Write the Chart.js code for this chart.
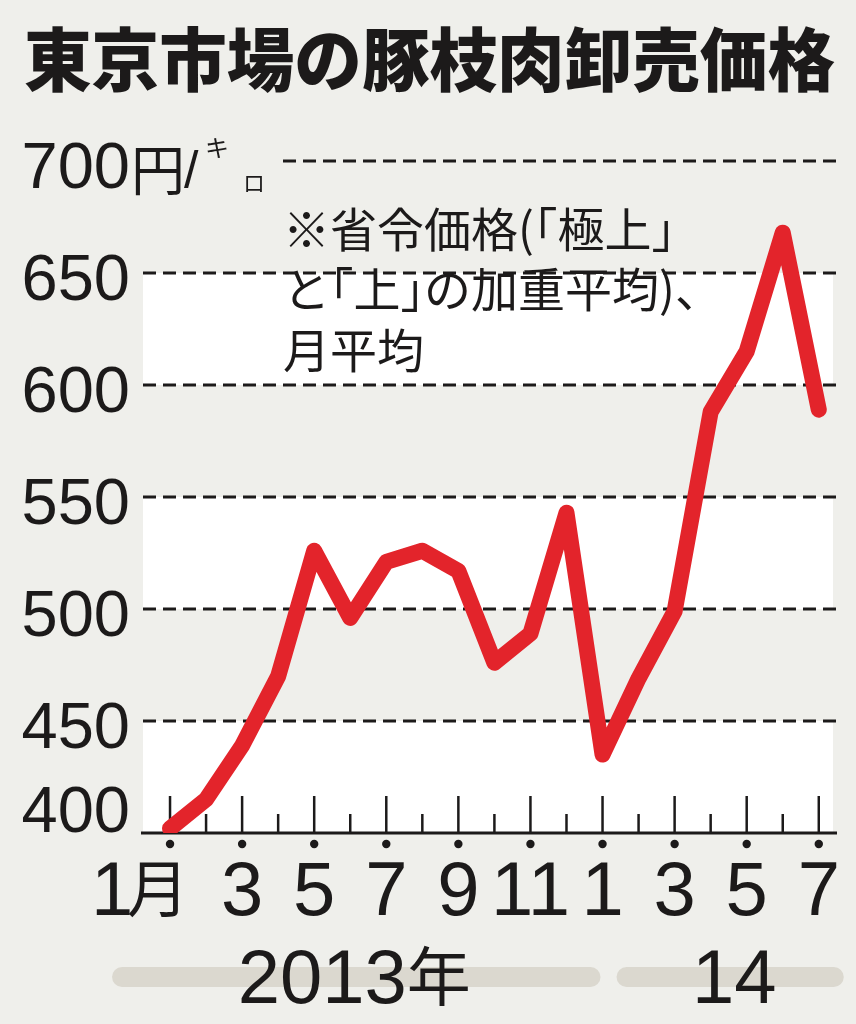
<!DOCTYPE html>
<html lang="ja">
<head>
<meta charset="utf-8">
<title>東京市場の豚枝肉卸売価格</title>
<script src="https://cdn.jsdelivr.net/npm/chart.js"></script>
<style>
  html, body { margin: 0; padding: 0; background: #efefeb; }
  #wrap { width: 856px; height: 1024px; }
</style>
</head>
<body>
<div id="wrap"><canvas id="priceChart" width="856" height="1024"></canvas></div>
<script>
  // データ（2013年1月〜2014年7月、円/キロ）
  const title = '東京市場の豚枝肉卸売価格';
  const noteLines = ['※省令価格(「極上」', 'と「上」の加重平均)、', '月平均'];
  const months = [1, 2, 3, 4, 5, 6, 7, 8, 9, 10, 11, 12, 1, 2, 3, 4, 5, 6, 7];
  const prices = [402, 415, 439, 470, 526, 496, 521, 526, 517, 476, 489, 543, 435, 469, 499, 588, 615, 668, 589];
  const yTicks = [400, 450, 500, 550, 600, 650, 700];
  const yearLabels = ['2013年', '14'];
  const yearFirst = [0, 12];
  const yearLast = [11, 18];

  const INK = '#1c1a1a';
  const BG = '#efefeb';
  const LATIN = '"Liberation Sans", Arial, sans-serif';
  const CJK = '"Noto Sans CJK JP", sans-serif';

  // 半角扱いの約物
  function drawNote(ctx, text, x, y, size) {
    ctx.font = size + 'px ' + CJK;
    ctx.textAlign = 'left';
    ctx.textBaseline = 'middle';
    let cx = x;
    for (const ch of text) {
      if (ch === '「') {
        ctx.fillText(ch, cx - size * 0.5, y);
        cx += size * 0.5;
      } else if (ch === '」' || ch === '、') {
        ctx.fillText(ch, cx, y);
        cx += size * 0.5;
      } else {
        ctx.fillText(ch, cx, y);
        cx += ctx.measureText(ch).width;
      }
    }
  }

  const decor = {
    id: 'decor',
    beforeDraw(chart) {
      const { ctx, chartArea: a, scales: { x, y } } = chart;
      ctx.save();
      ctx.fillStyle = BG;
      ctx.fillRect(0, 0, chart.width, chart.height);

      // 白い帯
      ctx.fillStyle = '#ffffff';
      for (let i = 0; i < yTicks.length - 2; i += 2) {
        const y0 = y.getPixelForValue(yTicks[i]);
        const y1 = y.getPixelForValue(yTicks[i + 1]);
        ctx.fillRect(a.left, y1, a.right - a.left - 2, y0 - y1);
      }

      // 破線の目盛り線
      ctx.strokeStyle = INK;
      ctx.lineWidth = 3;
      ctx.setLineDash([13, 7]);
      yTicks.forEach(v => {
        if (v === 400) return;
        const py = Math.round(y.getPixelForValue(v));
        const startX = v === 700 ? 283 : a.left;
        ctx.beginPath();
        ctx.moveTo(startX, py);
        ctx.lineTo(a.right + 2, py);
        ctx.stroke();
      });
      ctx.setLineDash([]);

      // 横軸と目盛り
      const axisY = y.getPixelForValue(400);
      ctx.lineWidth = 3;
      ctx.beginPath();
      ctx.moveTo(a.left - 2, axisY);
      ctx.lineTo(a.right + 2, axisY);
      ctx.stroke();
      ctx.lineWidth = 2.5;
      months.forEach((m, i) => {
        const px = x.getPixelForValue(i);
        const h = i % 2 === 0 ? 37 : 19;
        ctx.beginPath();
        ctx.moveTo(px, axisY);
        ctx.lineTo(px, axisY - h);
        ctx.stroke();
      });

      // 年の帯
      ctx.lineCap = 'round';
      const pills = [[x.getPixelForValue(yearFirst[0]) - 48, x.getPixelForValue(yearLast[0]) + 24],
                     [x.getPixelForValue(yearFirst[1]) + 24, x.getPixelForValue(yearLast[1]) + 15]];
      ctx.strokeStyle = '#dbd8cf';
      ctx.lineWidth = 20;
      pills.forEach(p => {
        ctx.beginPath();
        ctx.moveTo(p[0], 977);
        ctx.lineTo(p[1], 977);
        ctx.stroke();
      });
      ctx.restore();
    },
    afterDraw(chart) {
      const { ctx, scales: { x, y } } = chart;
      ctx.save();
      ctx.fillStyle = INK;

      // タイトル
      ctx.font = '900 69px ' + CJK;
      ctx.textAlign = 'left';
      ctx.textBaseline = 'middle';
      const tw = ctx.measureText(title).width;
      ctx.translate(24, 60);
      ctx.scale(811 / tw, 1);
      ctx.fillText(title, 0, 0);
      ctx.setTransform(1, 0, 0, 1, 0, 0);
      ctx.scale(chart.currentDevicePixelRatio, chart.currentDevicePixelRatio);

      // 縦軸ラベル
      ctx.font = '65px ' + LATIN;
      ctx.textAlign = 'right';
      ctx.textBaseline = 'alphabetic';
      yTicks.forEach(v => {
        const py = y.getPixelForValue(v);
        ctx.fillText(String(v), 130, v === 400 ? py - 1 : py + 27);
      });
      const top = y.getPixelForValue(700) + 29;
      ctx.textAlign = 'left';
      ctx.font = '54px ' + CJK;
      ctx.fillText('円', 131, top + 1);
      ctx.font = '52px ' + LATIN;
      ctx.fillText('/', 184, top - 2);
      ctx.textBaseline = 'top';
      ctx.font = '24px ' + CJK;
      ctx.fillText('キ', 205, top - 54);
      ctx.font = '22px ' + CJK;
      ctx.fillText('ロ', 243, top - 18);

      // 注記
      drawNote(ctx, noteLines[0], 283, 229, 47);
      drawNote(ctx, noteLines[1], 283, 289, 47);
      drawNote(ctx, noteLines[2], 283, 350, 47);

      // 横軸ラベルと点
      const axisY = y.getPixelForValue(400);
      ctx.textBaseline = 'alphabetic';
      months.forEach((m, i) => {
        if (i % 2 !== 0) return;
        const px = x.getPixelForValue(i);
        ctx.beginPath();
        ctx.arc(px, axisY + 11, 4.2, 0, Math.PI * 2);
        ctx.fill();
        ctx.textAlign = 'center';
        if (i === 0) {
          ctx.font = '76px ' + LATIN;
          ctx.fillText(String(m), px - 58, 915);
          ctx.font = '62px ' + CJK;
          ctx.fillText('月', px - 12, 912);
        } else {
          ctx.font = '76px ' + LATIN;
          ctx.fillText(String(m), px, 915);
        }
      });

      // 年ラベル
      const centers = [(x.getPixelForValue(yearFirst[0]) - 48 + x.getPixelForValue(yearLast[0]) + 24) / 2 - 2,
                       (x.getPixelForValue(yearFirst[1]) + 24 + x.getPixelForValue(yearLast[1]) + 15) / 2 + 4];
      yearLabels.forEach((lab, k) => {
        const cx = centers[k];
        if (lab.endsWith('年')) {
          const num = lab.slice(0, -1);
          ctx.font = '76px ' + LATIN;
          const nw = ctx.measureText(num).width;
          ctx.font = '64px ' + CJK;
          const kw = ctx.measureText('年').width;
          const sx = cx - (nw + kw) / 2;
          ctx.textAlign = 'left';
          ctx.font = '76px ' + LATIN;
          ctx.fillText(num, sx, 1003);
          ctx.font = '64px ' + CJK;
          ctx.fillText('年', sx + nw, 1000);
        } else {
          ctx.textAlign = 'center';
          ctx.font = '76px ' + LATIN;
          ctx.fillText(lab, cx, 1003);
        }
      });
      ctx.restore();
    }
  };

  const ctx = document.getElementById('priceChart').getContext('2d');
  new Chart(ctx, {
    type: 'line',
    data: {
      datasets: [{
        data: prices.map((v, i) => ({ x: i, y: v })),
        borderColor: '#e3242b',
        borderWidth: 16,
        borderCapStyle: 'round',
        borderJoinStyle: 'round',
        pointRadius: 0,
        tension: 0,
        fill: false
      }]
    },
    options: {
      responsive: false,
      animation: false,
      layout: { padding: { left: 143, right: 21, top: 161, bottom: 191 } },
      plugins: { legend: { display: false }, tooltip: { enabled: false } },
      scales: {
        x: { type: 'linear', min: -0.75, max: 18.45, display: false },
        y: { min: 400, max: 700, display: false }
      }
    },
    plugins: [decor]
  });
</script>
</body>
</html>
